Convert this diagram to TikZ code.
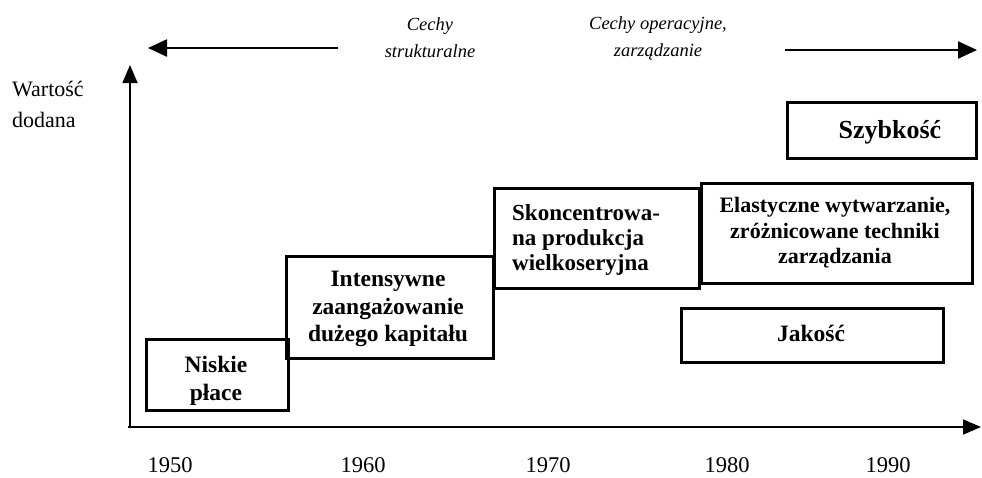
\documentclass[tikz,border=0pt]{standalone}
\usepackage{fontspec}
\setmainfont{Liberation Serif}
\usetikzlibrary{arrows.meta}
\begin{document}
\begin{tikzpicture}[x=1pt,y=-1pt,
  box/.style={draw,line width=2.8pt,anchor=north west,inner sep=0pt},
  boxtext/.style={align=center,inner sep=0pt,font=\bfseries\fontsize{23.5}{27.5}\selectfont},
  axis/.style={line width=1.6pt,-{Triangle[length=18pt,width=15pt]}},
  toparrow/.style={line width=2.3pt,-{Triangle[length=19pt,width=17pt]}},
  toplabel/.style={align=center,font=\itshape\fontsize{18.5}{27}\selectfont},
  year/.style={font=\fontsize{22.5}{26}\selectfont},
  ylabel/.style={align=left,anchor=west,inner sep=0pt,font=\fontsize{22}{31}\selectfont}]
\useasboundingbox (0,0) rectangle (982,477);
% axes
\coordinate (o) at (130,427);
\coordinate (ytip) at (130,65);
\coordinate (xstart) at (128,427);
\coordinate (xtip) at (981,427);
\draw[axis] (o) -- (ytip);
\draw[axis] (xstart) -- (xtip);
% top arrows and labels
\coordinate (la1) at (338,48);
\coordinate (la2) at (148,48);
\coordinate (ra1) at (785,50);
\coordinate (ra2) at (977,50);
\draw[toparrow] (la1) -- (la2);
\draw[toparrow] (ra1) -- (ra2);
\node[toplabel] (struct) at (430,38) {Cechy\\strukturalne};
\node[toplabel] (oper) at (658,38) {Cechy operacyjne,\\zarządzanie};
% y label
\node[ylabel] (wart) at (12,104) {Wartość\\dodana};
% boxes
\node[box,minimum width=142pt,minimum height=71pt] (niskie) at (145,338) {};
\node[box,minimum width=207pt,minimum height=102pt] (intens) at (285,255) {};
\node[box,minimum width=205pt,minimum height=100pt] (skonc) at (493,187) {};
\node[box,minimum width=271pt,minimum height=100pt] (elast) at (700,182) {};
\node[box,minimum width=262pt,minimum height=54pt] (jakosc) at (680,307) {};
\node[box,minimum width=189pt,minimum height=56pt] (szybk) at (786,101) {};
% box texts
\node[boxtext] (tniskie) at (216,381) {Niskie\\płace};
\node[boxtext] (tintens) at (388,309) {Intensywne\\zaangażowanie\\dużego kapitału};
\node[boxtext,align=left,anchor=west,font=\bfseries\fontsize{23}{25}\selectfont] (tskonc) at (512,240) {Skoncentrowa-\\na produkcja\\wielkoseryjna};
\node[boxtext,font=\bfseries\fontsize{22}{25.5}\selectfont] (telast) at (835,233) {Elastyczne wytwarzanie,\\zróżnicowane techniki\\zarządzania};
\node[boxtext] (tjakosc) at (811,333) {Jakość};
\node[boxtext,font=\bfseries\fontsize{26}{28}\selectfont] (tszybk) at (890,132) {Szybkość};
% years
\node[year] (y1950) at (170,465) {1950};
\node[year] (y1960) at (363,465) {1960};
\node[year] (y1970) at (548,465) {1970};
\node[year] (y1980) at (727,465) {1980};
\node[year] (y1990) at (888,465) {1990};
\end{tikzpicture}
\end{document}
